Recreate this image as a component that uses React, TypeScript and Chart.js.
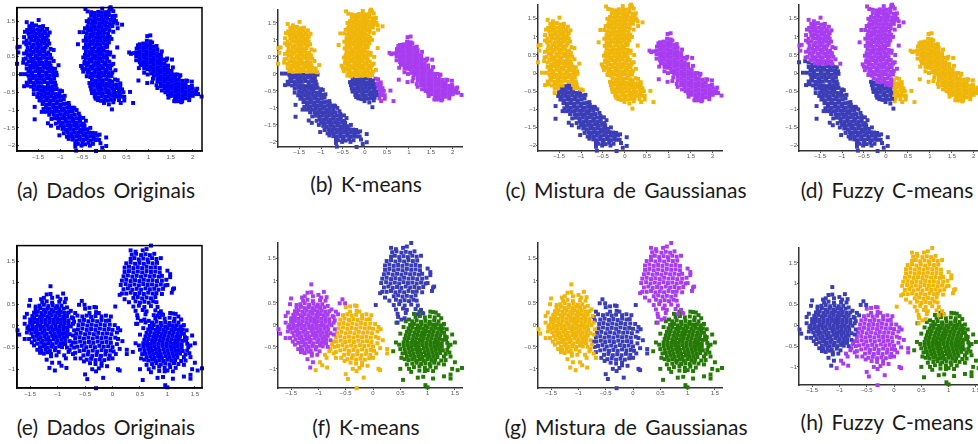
import React, { useEffect, useRef } from "react";
import { Chart, registerables } from "chart.js";
Chart.register(...registerables);

// flat x,y pairs. Upper row of panels
const LA = [-1.97,.76,-1.92,.78,-1.95,.62,-1.82,.59,-1.83,.43,-1.76,1.47,-1.64,1.43,-1.49,1.53,-1.39,1.36,-1.24,1.18,-1.28,1.1,-1.25,.87,-1.15,.69,-1.15,.38,-1.04,.26,-1.8,1.2,-1.82,1.05,-1.3,1.28,-1.82,.9,-1.22,.72,-1.2,.45,-1.28,.95,
-1.7,1.36,-1.62,1.33,-1.55,1.38,-1.47,1.34,-1.4,1.28,-1.75,1.25,-1.67,1.27,-1.6,1.24,-1.52,1.26,-1.44,1.23,-1.35,1.2,-1.72,1.15,-1.65,1.17,-1.57,1.14,-1.49,1.16,-1.41,1.13,-1.33,1.16,
-1.7,1.05,-1.62,1.07,-1.55,1.04,-1.47,1.06,-1.39,1.03,-1.31,1.05,-1.76,.95,-1.66,.97,-1.58,.95,-1.5,.96,-1.42,.94,-1.34,.97,-1.77,.85,-1.69,.87,-1.6,.84,-1.52,.86,-1.44,.84,-1.36,.87,-1.3,.83,
-1.74,.75,-1.65,.77,-1.57,.74,-1.49,.76,-1.41,.74,-1.33,.76,-1.76,.65,-1.68,.67,-1.6,.64,-1.52,.66,-1.44,.64,-1.36,.66,-1.27,.62,-1.73,.55,-1.65,.57,-1.56,.54,-1.48,.56,-1.4,.54,-1.32,.56,-1.23,.55,
-1.78,.45,-1.68,.47,-1.6,.44,-1.52,.46,-1.44,.44,-1.36,.47,-1.28,.45,-1.72,.36,-1.64,.37,-1.56,.34,-1.48,.36,-1.4,.33,-1.32,.36,-1.24,.33,-1.62,.27,-1.54,.26,-1.46,.28,-1.38,.26,-1.3,.27,-1.22,.25];
const LB = [-1.98,.3,-1.84,.33,-1.76,.29,-1.68,.24,-1.76,.17,-1.68,.15,-1.6,.19,-1.52,.18,-1.44,.16,-1.36,.19,-1.28,.17,-1.2,.18,-1.12,.16,-1.72,.08,-1.64,.06,-1.56,.09,-1.48,.07,-1.4,.09,-1.32,.06,-1.24,.08,-1.16,.07,-1.09,.05];
const LC = [-1.89,.01,-1.8,.01,-1.72,-.03,-1.64,-.02,-1.56,-.04,-1.48,-.02,-1.4,-.03,-1.32,-.01,-1.24,-.04,-1.16,-.02,-1.08,-.02,-1.7,-.13,-1.62,-.11,-1.54,-.14,-1.46,-.12,-1.38,-.13,-1.3,-.11,-1.22,-.14,-1.14,-.12,
-1.76,-.23,-1.68,-.21,-1.6,-.24,-1.52,-.22,-1.44,-.23,-1.36,-.21,-1.28,-.24,-1.2,-.22,-1.12,-.23,-1.82,-.33,-1.74,-.31,-1.66,-.34,-1.58,-.32,-1.5,-.33,-1.42,-.34,-1.18,-.33,-1.1,-.31,-1.6,-.43,-1.52,-.41,-1.15,-.42,-1.08,-.41,-1.6,-.55,-1.0,-.45,-.96,-.47];
const LD = [-1.36,-.36,-1.28,-.33,-1.22,-.36,-1.45,-.44,-1.37,-.45,-1.29,-.43,-1.21,-.45,-1.5,-.53,-1.42,-.55,-1.34,-.53,-1.26,-.54,-1.18,-.52,-1.1,-.55,-1.02,-.53,-1.52,-.63,-1.44,-.65,-1.36,-.63,-1.28,-.64,-1.2,-.62,-1.12,-.65,-1.04,-.63,-.98,-.62,
-1.47,-.73,-1.39,-.75,-1.31,-.73,-1.23,-.74,-1.15,-.72,-1.07,-.75,-.99,-.73,-1.4,-.83,-1.32,-.85,-1.24,-.83,-1.16,-.84,-1.08,-.82,-1,-.85,-.92,-.83,-.85,-.82,-1.32,-.93,-1.24,-.95,-1.16,-.93,-1.08,-.94,-1,-.92,-.92,-.95,-.84,-.93,-.76,-.94,-.7,-.93,
-1.28,-1.03,-1.2,-1.05,-1.12,-1.03,-1.04,-1.04,-.96,-1.02,-.88,-1.05,-.8,-1.03,-.72,-1.04,-1.15,-1.13,-1.07,-1.15,-.99,-1.13,-.91,-1.14,-.83,-1.12,-.75,-1.15,-.67,-1.13,-1.12,-1.23,-1.04,-1.25,-.96,-1.23,-.88,-1.24,-.8,-1.22,-.72,-1.25,-.64,-1.23,-.56,-1.24,
-1.03,-1.33,-.95,-1.35,-.87,-1.33,-.79,-1.34,-.71,-1.32,-.63,-1.35,-.55,-1.33,-1,-1.43,-.92,-1.45,-.84,-1.43,-.76,-1.44,-.68,-1.42,-.6,-1.45,-.52,-1.43,-.45,-1.44,-.95,-1.53,-.87,-1.55,-.79,-1.53,-.71,-1.54,-.63,-1.52,-.55,-1.55,-.47,-1.53,-.39,-1.54,
-.83,-1.63,-.75,-1.65,-.67,-1.63,-.59,-1.64,-.51,-1.62,-.43,-1.65,-.35,-1.63,-.27,-1.64,-.8,-1.73,-.72,-1.75,-.64,-1.73,-.56,-1.74,-.48,-1.72,-.4,-1.75,-.32,-1.73,-.24,-1.74,-.16,-1.72,-.72,-1.83,-.64,-1.85,-.56,-1.83,-.48,-1.84,-.4,-1.82,-.32,-1.85,-.24,-1.83,-.12,-1.84,-.66,-1.93,-.6,-1.95,-.5,-1.93,-.44,-1.96,-.36,-1.92,-.26,-1.95,
-1.58,-.91,-1.58,-1.26,-1.42,-1.05,-1.34,-1.05,-1.28,-1.37,-1.21,-1.44,-1.02,-1.71,-.81,-1.81,-.66,-2.03,-.64,-2.14,-.19,-2.15,.04,-1.77,.04,-2.01,-.05,-2.06,-.09,-1.93,-.2,-1.84,-.11,-1.69,-.42,-1.3,-.56,-1.18,-.68,-.95,-.81,-.8,-.92,-.7,-1.02,-.61,-.47,-1.54,-.52,-2.0,-.33,-2.0,
-.9,-.6,-.8,-.88,-.63,-1,-.58,-1.1,-.48,-1.22,-.47,-1.38,-.32,-1.5,-.2,-1.65,-1.38,-.97,-1.25,-1.13,-1.2,-1.25,-1.1,-1.38,-1.05,-1.5,-.92,-1.65,-.85,-1.75];
const MA = [-.43,1.84,-.38,1.77,.14,1.89,.2,1.78,.4,1.4,.29,1.43,.3,1.3,-.56,1.19,-.47,1.19,-.6,.85,.29,.76,-.53,.24,-.45,.3,-.48,.08,.21,.5,.06,.78,-.05,1.85,.12,1.86,.16,1.83,-.46,.75,-.48,.48,-.5,.18,.1,.9,.16,1,.2,1.2,.26,1.5,.25,1.65,-.4,1.5,-.44,1.3,-.47,.95,.13,.62,.2,.3,.25,.12,
-.3,1.75,-.22,1.73,-.14,1.76,-.06,1.74,.02,1.75,.1,1.77,-.3,1.65,-.22,1.63,-.14,1.66,-.06,1.64,.02,1.65,.1,1.67,.18,1.64,-.34,1.55,-.26,1.53,-.18,1.56,-.1,1.54,-.02,1.55,.06,1.57,.14,1.54,.22,1.55,
-.36,1.45,-.28,1.43,-.2,1.46,-.12,1.44,-.04,1.45,.04,1.47,.12,1.44,.2,1.46,-.38,1.35,-.3,1.33,-.22,1.36,-.14,1.34,-.06,1.35,.02,1.37,.1,1.34,.18,1.36,-.37,1.25,-.29,1.23,-.21,1.26,-.13,1.24,-.05,1.25,.03,1.27,.11,1.24,
-.4,1.15,-.32,1.13,-.24,1.16,-.16,1.14,-.08,1.15,0,1.17,.08,1.14,-.42,1.05,-.34,1.03,-.26,1.06,-.18,1.04,-.1,1.05,-.02,1.07,.06,1.04,.12,1.06,-.4,.95,-.32,.93,-.24,.96,-.16,.94,-.08,.95,0,.97,.08,.94,
-.42,.85,-.34,.83,-.26,.86,-.18,.84,-.1,.85,-.02,.87,.06,.84,-.38,.75,-.3,.73,-.22,.76,-.14,.74,-.06,.75,.02,.77,-.42,.65,-.34,.63,-.26,.66,-.18,.64,-.1,.65,-.02,.67,.06,.64,-.44,.55,-.36,.53,-.28,.56,-.2,.54,-.12,.55,-.04,.57,.04,.54,.12,.56,
-.42,.45,-.34,.43,-.26,.46,-.18,.44,-.1,.45,-.02,.47,.06,.44,-.45,.35,-.37,.33,-.29,.36,-.21,.34,-.13,.35,-.05,.37,.03,.34,.11,.36,-.4,.25,-.32,.23,-.24,.26,-.16,.24,-.08,.25,0,.27,.08,.24,.16,.26,
-.43,.15,-.35,.13,-.27,.16,-.19,.14,-.11,.15,-.03,.17,.05,.14,.13,.16,-.38,.05,-.3,.03,-.22,.06,-.14,.04,-.06,.05,.02,.07,.1,.04,.18,.06,-.4,-.05,-.32,-.07,-.24,-.04,-.16,-.06,-.08,-.05,0,-.03,.08,-.06,.16,-.04];
const MC = [-.28,-.15,-.2,-.17,-.12,-.15,-.04,-.16,.04,-.14,.12,-.17,-.2,-.24,-.12,-.25,-.04,-.24,.04,-.26,.12,-.25,.05,-.32,.12,-.33,0,-.31];
const MD = [-.34,-.24,-.27,-.26,-.32,-.33,-.24,-.32,-.16,-.34,-.08,-.33,-.3,-.42,-.22,-.44,-.14,-.42,-.06,-.43,.02,-.41,.1,-.44,-.28,-.52,-.2,-.54,-.12,-.52,-.04,-.53,.04,-.51,.12,-.54,-.22,-.62,-.14,-.64,-.06,-.62,.02,-.63,.1,-.61,-.15,-.72,-.08,-.74,0,-.72,.08,-.73,.14,-.71,-.2,-.68,-.28,-.49,.1,-.84,.17,-.98,-.01,-.8];
const MF = [.18,-.2,.2,-.3,.18,-.4,.22,-.42,.2,-.5,.26,-.52,.18,-.6,.26,-.62,.22,-.7,.2,-.78];
const ME = [.24,-.14,.3,-.16,.36,-.25,.28,-.28,.36,-.34,.28,-.38,.33,-.44,.4,-.42,.35,-.53,.43,-.5,.32,-.62,.4,-.62,.45,-.63,.33,-.72,.58,-.49,.65,-.8,.45,-.73,.37,-.8];
const R = [.6,.58,.56,.62,.66,.6,.72,.52,.72,.62,.73,.73,.77,-.17,.8,.85,.8,.75,.8,.65,.8,.55,.8,.45,.8,.35,.82,.27,.88,.87,.88,.77,.88,.67,.88,.57,.88,.47,.88,.37,.88,.27,.9,.17,.96,.95,.96,.85,.96,.75,.96,.65,.96,.55,.96,.45,.96,.35,.96,.25,.98,.15,
1.04,.93,1.04,.83,1.04,.73,1.04,.63,1.04,.53,1.04,.43,1.04,.33,1.04,.23,1.04,.13,1.06,.03,.97,-.24,1.12,.78,1.12,.68,1.12,.58,1.12,.48,1.12,.38,1.12,.28,1.12,.18,1.12,.08,1.12,-.02,1.1,-.12,1.2,.7,1.2,.6,1.2,.5,1.2,.4,1.2,.3,1.2,.2,1.2,.1,1.2,0,1.2,-.1,1.2,-.2,1.18,-.3,
1.28,.55,1.28,.45,1.28,.35,1.28,.25,1.28,.15,1.28,.05,1.28,-.05,1.28,-.15,1.28,-.25,1.28,-.33,1.36,.42,1.36,.3,1.36,.2,1.36,.1,1.36,0,1.36,-.1,1.36,-.2,1.36,-.3,1.36,-.4,1.38,-.5,1.44,.25,1.44,.15,1.44,.05,1.44,-.05,1.44,-.15,1.44,-.25,1.44,-.35,1.44,-.45,1.44,-.55,
1.52,.1,1.52,0,1.52,-.1,1.52,-.2,1.52,-.3,1.52,-.4,1.52,-.5,1.52,-.6,1.6,0,1.6,-.08,1.6,-.18,1.6,-.28,1.6,-.38,1.6,-.48,1.6,-.58,1.6,-.68,1.68,-.15,1.68,-.25,1.68,-.35,1.68,-.45,1.68,-.55,1.68,-.65,1.68,-.75,1.76,-.18,1.76,-.28,1.76,-.38,1.76,-.48,1.76,-.58,1.76,-.68,1.76,-.75,
1.84,-.27,1.84,-.37,1.84,-.47,1.84,-.57,1.84,-.67,1.92,-.35,1.92,-.45,1.92,-.55,1.92,-.65,1.92,-.72,2,-.4,2,-.5,2,-.6,2.08,-.45,2.08,-.55,1.04,1.1,.97,1.08,1.53,.42,1.4,.4,1.65,0,1.72,-.02,1.88,-.18,1.98,-.2,2.2,-.62,2.12,-.55,2.05,-.52,1.74,-.78,1.58,-.75,
.76,.82,.72,.4,.78,.18,.9,.05,.98,0,1.08,-.22,1.2,-.38,1.3,-.45,1.45,-.65,1.62,-.75,1.08,.9,1.18,.8,1.3,.65,1.42,.45,1.55,.2,1.7,-.05,1.85,-.17,1.98,-.32,2.1,-.4];

// flat x,y pairs, lower row of panels
const C1 = [-1.73,-.1,-1.7,-.2,-1.6,.2,-1.6,.05,-1.6,-.3,-1.5,.6,-1.52,.47,-1.4,.45,-1.13,.92,-.9,.75,-.85,.63,-.87,.55,-.83,.43,-.76,.35,-1.3,.62,-1.2,.73,-1.13,.74,-1,.68,-1.1,-.85,-1.15,-.97,-1.2,-.78,-1.12,-.7,
-1.56,.28,-1.55,-.05,-1.56,-.15,-1.52,-.3,-1.47,-.38,-1.43,-.45,-1.37,-.55,-1.12,-.65,-1.1,.65,-1.25,.65,-.95,.62,-.74,.2,-.72,.05,-.7,-.1,-.72,-.22,-.78,-.35,-.83,-.5,-.86,-.42,-.98,-.6,-1.02,-.68,
-1.28,.55,-1.2,.57,-1.1,.54,-.97,.56,-1.33,.47,-1.25,.49,-1.17,.46,-1.09,.48,-1.01,.46,-.93,.47,-1.4,.39,-1.32,.41,-1.25,.38,-1.18,.4,-1.11,.38,-1.04,.41,-.97,.39,-.89,.4,-1.43,.31,-1.36,.33,-1.29,.3,-1.22,.32,-1.15,.3,-1.08,.33,-1.01,.31,-.94,.32,-.87,.3,-.8,.31,
-1.46,.23,-1.39,.25,-1.32,.22,-1.25,.24,-1.18,.22,-1.11,.25,-1.04,.23,-.97,.24,-.9,.22,-.83,.23,-1.5,.15,-1.43,.17,-1.36,.14,-1.29,.16,-1.22,.14,-1.15,.17,-1.08,.15,-1.01,.16,-.94,.14,-.87,.15,-.8,.13,-1.5,.07,-1.43,.09,-1.36,.06,-1.29,.08,-1.22,.06,-1.15,.09,-1.08,.07,-1.01,.08,-.94,.06,-.87,.07,-.8,.05,
-1.53,-.01,-1.46,.01,-1.39,-.02,-1.32,0,-1.25,-.02,-1.18,.01,-1.11,-.01,-1.04,0,-.97,-.02,-.9,-.01,-.83,-.03,-.76,-.01,-1.52,-.09,-1.45,-.07,-1.38,-.1,-1.31,-.08,-1.24,-.1,-1.17,-.07,-1.1,-.09,-1.03,-.08,-.96,-.1,-.89,-.09,-.82,-.11,-1.48,-.17,-1.41,-.15,-1.34,-.18,-1.27,-.16,-1.2,-.18,-1.13,-.15,-1.06,-.17,-.99,-.16,-.92,-.18,-.85,-.17,-.78,-.19,
-1.45,-.25,-1.38,-.23,-1.31,-.26,-1.24,-.24,-1.17,-.26,-1.1,-.23,-1.03,-.25,-.96,-.24,-.89,-.26,-.83,-.25,-1.42,-.33,-1.35,-.31,-1.28,-.34,-1.21,-.32,-1.14,-.34,-1.07,-.31,-1,-.33,-.93,-.32,-.86,-.34,-1.37,-.41,-1.3,-.39,-1.23,-.42,-1.16,-.4,-1.09,-.42,-1.02,-.39,-.95,-.41,-.9,-.4,-1.32,-.49,-1.25,-.47,-1.18,-.5,-1.11,-.48,-1.04,-.5,-.97,-.47,-.92,-.49,-1.3,-.57,-1.22,-.55,-1.14,-.58,-1.05,-.56,-1.32,-.62,-1.25,-.64,-1.18,-.61];
const C5 = [-.88,-.68,-.85,-.75,-.8,-.6,-.75,-.45,-.78,-.55,-.72,-.65,-.97,-.85,-1.05,-1.03,-.84,-.97,-.93,-.92,-.68,-.75];
const C6 = [-.56,.58,-.61,.49,-.51,.49,-.68,.3,-.72,.18,-.7,.1,-.64,.24];
const C7 = [.05,.45];
const C2 = [-.5,.4,-.42,.42,-.3,.43,-.33,.44,-.42,.3,-.3,.32,-.25,.3,-.55,.22,-.47,.24,-.39,.21,-.31,.23,-.2,.22,-.12,.24,-.6,.12,-.52,.14,-.44,.11,-.36,.13,-.28,.11,-.2,.14,-.12,.12,-.06,.13,-.62,.02,-.54,.04,-.46,.01,-.38,.03,-.3,.01,-.22,.04,-.14,.02,-.05,.03,
-.63,-.08,-.55,-.06,-.47,-.09,-.39,-.07,-.31,-.09,-.23,-.06,-.15,-.08,-.07,-.07,0,-.09,-.66,-.18,-.58,-.16,-.5,-.19,-.42,-.17,-.34,-.19,-.26,-.16,-.18,-.18,-.1,-.17,-.02,-.19,-.68,-.28,-.6,-.26,-.52,-.29,-.44,-.27,-.36,-.29,-.28,-.26,-.2,-.28,-.12,-.27,-.04,-.29,.05,-.27,
-.67,-.38,-.59,-.36,-.51,-.39,-.43,-.37,-.35,-.39,-.27,-.36,-.19,-.38,-.11,-.37,-.03,-.39,-.64,-.48,-.56,-.46,-.48,-.49,-.4,-.47,-.32,-.49,-.24,-.46,-.16,-.48,-.08,-.47,0,-.49,-.6,-.58,-.52,-.56,-.44,-.59,-.36,-.57,-.28,-.59,-.2,-.56,-.12,-.58,-.04,-.57,.02,-.59,
-.53,-.68,-.45,-.66,-.37,-.69,-.29,-.67,-.21,-.69,-.13,-.66,-.05,-.68,-.47,-.78,-.39,-.76,-.31,-.79,-.23,-.77,-.15,-.79,-.07,-.76,0,-.75,-.41,-.86,-.31,-.88,-.2,-.86,.1,-.05,.14,-.1,.08,-.15,.1,-.3,.18,-.35,.13,-.53,.26,-.55,.26,-.65,-.5,-1.12,-.46,-1.23,-.3,-1.44,-.17,-1.2,.1,-1,.13,-1.03,-.37,-1,-.3,-1.05,-.25,-.98,-.1,-.93,-.2,-.92,
-.7,-.5,-.72,-.38,-.68,-.62,-.58,-.75,-.52,-.82,.08,-.42,.06,-.65,.04,.02,-.03,.22];
const C3 = [.55,1.75,.62,1.78,.7,1.86,.35,1.65,.43,1.67,.52,1.64,.6,1.66,.68,1.64,.76,1.67,.33,1.55,.4,1.57,.48,1.54,.56,1.56,.64,1.54,.72,1.57,.8,1.55,.88,1.57,.25,1.45,.33,1.47,.41,1.44,.49,1.46,.57,1.44,.65,1.47,.73,1.45,.81,1.46,
.22,1.35,.3,1.37,.38,1.34,.46,1.36,.54,1.34,.62,1.37,.7,1.35,.78,1.36,.86,1.34,.22,1.25,.3,1.27,.38,1.24,.46,1.26,.54,1.24,.62,1.27,.7,1.25,.78,1.26,.86,1.24,.2,1.15,.28,1.17,.36,1.14,.44,1.16,.52,1.14,.6,1.17,.68,1.15,.76,1.16,.84,1.14,.9,1.16,
.17,1.05,.25,1.07,.33,1.04,.41,1.06,.49,1.04,.57,1.07,.65,1.05,.73,1.06,.81,1.04,.9,1.05,.98,1.07,.15,.95,.24,.97,.32,.94,.4,.96,.48,.94,.56,.97,.64,.95,.72,.96,.8,.94,.88,.96,.96,.94,.2,.85,.28,.87,.36,.84,.44,.86,.52,.84,.6,.87,.68,.85,.76,.86,.84,.84,.92,.86,
.25,.75,.33,.77,.41,.74,.49,.76,.57,.74,.65,.77,.73,.75,.8,.76,.9,.74,.38,.65,.46,.67,.54,.64,.62,.66,.7,.64,.78,.67,.3,.55,.42,.57,.5,.54,.58,.56,.66,.54,.74,.57,.8,.55,.38,.45,.48,.47,.58,.44,.7,.46,.82,.44,.42,.35,.55,.37,.62,.34,.78,.36,.88,.34,.45,.25,.6,.27,.82,.24,.92,.26,.58,.15,
.33,1.75,.42,1.72,1,1.28,1.05,1.2,1.05,1.13,1.1,.85,1.12,.87,1.08,.77,.17,.75,.13,.72,.22,.62,1,.95,.45,.05,.52,.12,.46,.18];
const C4 = [.85,.3,1.1,.29,.9,.27,1.15,.28,.78,.18,.86,.2,.95,.17,1.04,.19,1.13,.17,.72,.08,.8,.1,.88,.07,.96,.09,1.04,.07,1.12,.1,1.2,.08,.68,0,.75,.02,.82,-.01,.89,.01,.96,-.01,1.03,.02,1.1,0,1.17,.01,1.24,-.01,
.65,-.08,.72,-.06,.79,-.09,.86,-.07,.93,-.09,1,-.06,1.07,-.08,1.14,-.07,1.21,-.09,1.28,-.08,.62,-.16,.69,-.14,.76,-.17,.83,-.15,.9,-.17,.97,-.14,1.04,-.16,1.11,-.15,1.18,-.17,1.25,-.16,1.3,-.18,.6,-.24,.67,-.22,.74,-.25,.81,-.23,.88,-.25,.95,-.22,1.02,-.24,1.09,-.23,1.16,-.25,1.23,-.24,1.32,-.26,
.58,-.32,.65,-.3,.72,-.33,.79,-.31,.86,-.33,.93,-.3,1,-.32,1.07,-.31,1.14,-.33,1.21,-.32,1.28,-.34,1.34,-.33,.56,-.4,.63,-.38,.7,-.41,.77,-.39,.84,-.41,.91,-.38,.98,-.4,1.05,-.39,1.12,-.41,1.19,-.4,1.26,-.42,1.36,-.41,.56,-.48,.63,-.46,.7,-.49,.77,-.47,.84,-.49,.91,-.46,.98,-.48,1.05,-.47,1.12,-.49,1.19,-.48,1.26,-.5,1.38,-.49,
.58,-.56,.65,-.54,.72,-.57,.79,-.55,.86,-.57,.93,-.54,1,-.56,1.07,-.55,1.14,-.57,1.21,-.56,1.28,-.58,1.36,-.57,.6,-.64,.67,-.62,.74,-.65,.81,-.63,.88,-.65,.95,-.62,1.02,-.64,1.09,-.63,1.16,-.65,1.23,-.64,1.33,-.66,.62,-.72,.69,-.7,.76,-.73,.83,-.71,.9,-.73,.97,-.7,1.04,-.72,1.11,-.71,1.18,-.73,1.3,-.72,
.65,-.8,.72,-.78,.79,-.81,.86,-.79,.93,-.81,1,-.78,1.07,-.8,1.14,-.79,1.25,-.81,.72,-.88,.8,-.86,.88,-.89,.96,-.87,1.04,-.89,1.12,-.86,1.2,-.88,.75,-.96,.85,-.94,.95,-.97,1.05,-.95,1.15,-.97,.85,-1.04,.95,-1.05,1,-1.03,1.1,-1.05,
.43,.05,.6,.08,.42,-.4,.48,-.45,.37,-.6,.52,-.75,.58,-.78,.5,-1,.55,-1.25,.7,-1.07,.82,-1.2,.92,-1.18,.96,-1.37,1,-1.42,1.1,-1.22,1.3,-1.17,1.42,-1.13,1.42,-1.22,1.3,-.9,1.5,-.85,1.45,-1,1.55,-1.03,1.63,-.98,1.4,-.63,1.5,-.4,1.45,-.22,1.35,-.1,1.25,.15,1.2,.22,1.05,.3,.75,.25,
.5,-.2,.5,-.55,.54,-.65,.56,-.05,.66,.12,1.3,.02,1.35,-.28,1.42,-.45,1.42,-.72,1.33,-.8,.62,-.9,.66,-1];

const upperGroups = { LA, LB, LC, LD, MA, MC, MD, MF, ME, R };
const lowerGroups = { C1, C5, C6, C7, C2, C3, C4 };

const BLUE = "#0000f5", NAVY = "#3a3db6", GOLD = "#efb508", VIOLET = "#a83cf0", GREEN = "#257a05";
const xTicks = { upper: [-1.98, 2.21], lower: [-1.74, 1.63] };
const yTicks = { upper: [-2.15, 1.88], lower: [-1.435, 1.86] };

type Panel = { cap: string; capX: number; capY: number; row: "upper" | "lower"; box: number[]; frame: boolean; colors: Record<string, string> };
const panels: Panel[] = [
  { cap: "(a) Dados Originais", capX: 106, capY: 190, row: "upper", box: [17, 5, 185, 146], frame: true,
    colors: { LA: BLUE, LB: BLUE, LC: BLUE, LD: BLUE, MA: BLUE, MC: BLUE, MD: BLUE, MF: BLUE, ME: BLUE, R: BLUE } },
  { cap: "(b) K-means", capX: 366, capY: 184, row: "upper", box: [278, 10, 184, 137], frame: false,
    colors: { LA: GOLD, LB: GOLD, LC: NAVY, LD: NAVY, MA: GOLD, MC: NAVY, MD: NAVY, MF: NAVY, ME: VIOLET, R: VIOLET } },
  { cap: "(c) Mistura de Gaussianas", capX: 626, capY: 190, row: "upper", box: [538, 5, 184, 146], frame: false,
    colors: { LA: GOLD, LB: GOLD, LC: GOLD, LD: NAVY, MA: GOLD, MC: GOLD, MD: GOLD, MF: GOLD, ME: GOLD, R: VIOLET } },
  { cap: "(d) Fuzzy C-means", capX: 887, capY: 190, row: "upper", box: [799, 5, 184, 146], frame: false,
    colors: { LA: VIOLET, LB: NAVY, LC: NAVY, LD: NAVY, MA: VIOLET, MC: VIOLET, MD: NAVY, MF: GOLD, ME: GOLD, R: GOLD } },
  { cap: "(e) Dados Originais", capX: 106, capY: 427, row: "lower", box: [17, 243, 185, 145], frame: true,
    colors: { C1: BLUE, C5: BLUE, C6: BLUE, C7: BLUE, C2: BLUE, C3: BLUE, C4: BLUE } },
  { cap: "(f) K-means", capX: 366, capY: 427, row: "lower", box: [278, 243, 184, 145], frame: false,
    colors: { C1: VIOLET, C5: GOLD, C6: VIOLET, C7: NAVY, C2: GOLD, C3: NAVY, C4: GREEN } },
  { cap: "(g) Mistura de Gaussianas", capX: 626, capY: 427, row: "lower", box: [538, 243, 184, 145], frame: false,
    colors: { C1: GOLD, C5: GOLD, C6: NAVY, C7: NAVY, C2: NAVY, C3: VIOLET, C4: GREEN } },
  { cap: "(h) Fuzzy C-means", capX: 887, capY: 422, row: "lower", box: [799, 248, 184, 137], frame: false,
    colors: { C1: NAVY, C5: VIOLET, C6: NAVY, C7: GOLD, C2: VIOLET, C3: GOLD, C4: GREEN } },
];

const PAD_L = 17, PAD_T = 5, PAD_R = 14, PAD_B = 14;

function pairs(flat: number[]) {
  const out: { x: number; y: number }[] = [];
  for (let i = 0; i + 1 < flat.length; i += 2) out.push({ x: flat[i], y: flat[i + 1] });
  return out;
}

const fmt = (v: number | string) => String(Math.round(Number(v) * 10) / 10).replace("-", "\u2212");

function Scatter({ p }: { p: Panel }) {
  const ref = useRef<HTMLCanvasElement>(null);
  useEffect(() => {
    const groups: Record<string, number[]> = p.row === "upper" ? upperGroups : lowerGroups;
    const axisColor = p.frame ? "#000" : "#333";
    const axisWidth = 1.5;
    const tick = { size: 6, family: "'Liberation Sans'" };
    const frame = {
      id: "frame",
      afterDraw(c: Chart) {
        if (!p.frame) return;
        const a = c.chartArea;
        c.ctx.save();
        c.ctx.strokeStyle = "#000";
        c.ctx.lineWidth = 1.5;
        c.ctx.strokeRect(a.left, a.top, a.right - a.left, a.bottom - a.top);
        c.ctx.restore();
      },
    };
    const chart = new Chart(ref.current!, {
      type: "scatter",
      data: {
        datasets: Object.keys(groups).map((k) => ({
          label: k,
          data: pairs(groups[k]),
          pointStyle: "rect",
          pointRadius: 2.8,
          pointBorderWidth: 0,
          backgroundColor: p.colors[k],
          clip: false,
        })),
      },
      plugins: [frame],
      options: {
        animation: false,
        responsive: false,
        layout: { padding: { top: PAD_T, right: PAD_R, left: 0, bottom: 0 } },
        plugins: { legend: { display: false }, tooltip: { enabled: false } },
        scales: {
          x: {
            type: "linear",
            min: xTicks[p.row][0],
            max: xTicks[p.row][1],
            border: { color: axisColor, width: axisWidth },
            grid: { drawOnChartArea: false, drawTicks: true, tickLength: p.frame ? -2 : 2, color: "#555" },
            afterFit: (s: any) => { s.height = PAD_B; s.paddingLeft = 0; s.paddingRight = 0; },
            ticks: { stepSize: 0.5, includeBounds: false, autoSkip: false, maxRotation: 0, color: "#555", font: tick, padding: p.frame ? 5 : 0, callback: fmt },
          },
          y: {
            type: "linear",
            min: yTicks[p.row][0],
            max: yTicks[p.row][1],
            border: { color: axisColor, width: axisWidth },
            grid: { drawOnChartArea: false, drawTicks: true, tickLength: p.frame ? -2 : 2, color: "#555" },
            afterFit: (s: any) => { s.width = PAD_L; },
            ticks: { stepSize: 0.5, includeBounds: false, autoSkip: false, color: "#555", font: tick, padding: p.frame ? 4 : 0, callback: fmt },
          },
        },
      },
    } as any);
    return () => chart.destroy();
  }, [p]);
  const [l, t, w, h] = p.box;
  return (
    <canvas
      ref={ref}
      width={w + PAD_L + PAD_R}
      height={h + PAD_T + PAD_B}
      style={{ position: "absolute", left: l - PAD_L, top: t - PAD_T, display: "block", filter: "blur(0.4px)" }}
    />
  );
}

export default function App() {
  return (
    <div style={{ position: "fixed", left: 0, top: 0, width: 978, height: 444, overflow: "hidden", background: "#fff" }}>
      {panels.map((p) => (
        <React.Fragment key={p.cap}>
          <Scatter p={p} />
          <div
            style={{
              position: "absolute",
              left: p.capX - 150,
              width: 300,
              top: p.capY - 15,
              height: 30,
              lineHeight: "30px",
              textAlign: "center",
              fontFamily: "Lato, 'Open Sans', sans-serif",
              fontSize: 21,
              wordSpacing: 3,
              color: "#1a1a1a",
              whiteSpace: "nowrap",
            }}
          >
            {p.cap}
          </div>
        </React.Fragment>
      ))}
    </div>
  );
}
